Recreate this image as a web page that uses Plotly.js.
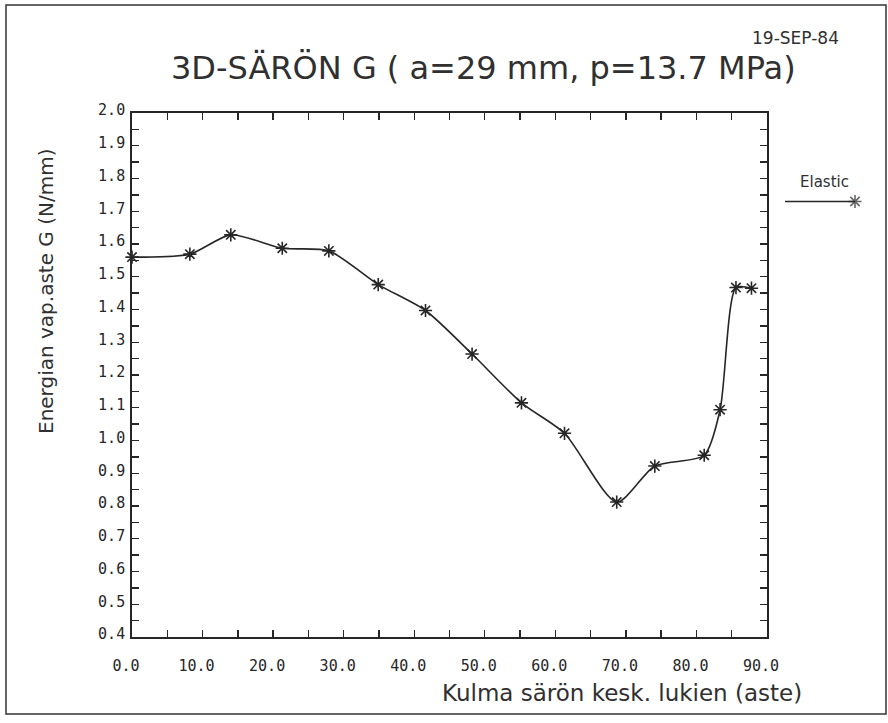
<!DOCTYPE html>
<html>
<head>
<meta charset="utf-8">
<script src="https://cdn.plot.ly/plotly-3.0.1.min.js"></script>
<style>
  html, body { margin: 0; padding: 0; background: #ffffff; }
  #chart { width: 888px; height: 723px; }
</style>
</head>
<body>
<div id="chart"></div>
<script>
// Data
const angle = [0, 8.2, 14.0, 21.3, 27.9, 34.9, 41.6, 48.2, 55.2, 61.3, 68.7, 74.1, 81.1, 83.35, 85.6, 87.8];
const gValue = [1.56, 1.569, 1.628, 1.587, 1.579, 1.476, 1.397, 1.264, 1.115, 1.022, 0.812, 0.922, 0.955, 1.094, 1.467, 1.465];
const seriesName = "Elastic";
const titleText = "3D-SÄRÖN G ( a=29 mm, p=13.7 MPa)";
const dateText = "19-SEP-84";
const xTitle = "Kulma särön kesk. lukien (aste)";
const yTitle = "Energian vap.aste G (N/mm)";

const W = 888, H = 723;
const plotL = 132, plotR = 767, plotT = 113, plotB = 637;
const px = v => v / W;
const py = v => 1 - v / H;

const ink = "#262626";
const textInk = "#303030";
const monoFont = { family: "DejaVu Sans Mono", size: 15, color: ink };

const mainTrace = {
  x: angle, y: gValue, type: "scatter", mode: "lines+markers",
  name: seriesName,
  line: { color: ink, width: 1.6, shape: "spline", smoothing: 0.7 },
  marker: { symbol: "asterisk-open", size: 11, line: { color: "#444", width: 1.6 } },
  showlegend: false,
  cliponaxis: false
};

// legend sample (line with asterisk at its right end)
const legendTrace = {
  x: [0, 1], y: [0, 0], xaxis: "x2", yaxis: "y2", type: "scatter",
  mode: "lines+markers",
  line: { color: ink, width: 1.6 },
  marker: { symbol: "asterisk-open", size: [0, 11], line: { color: "#444", width: 1.6 } },
  showlegend: false, hoverinfo: "skip", cliponaxis: false
};

const layout = {
  width: W, height: H,
  margin: { l: 0, r: 0, t: 0, b: 0, autoexpand: false },
  paper_bgcolor: "#ffffff", plot_bgcolor: "#ffffff",
  showlegend: false,
  xaxis: {
    domain: [px(plotL), px(plotR)],
    range: [0, 90], dtick: 10, tick0: 0,
    tickformat: ".1f",
    ticks: "inside", ticklen: 7, tickwidth: 1.4, tickcolor: ink,
    minor: { dtick: 5, ticks: "inside", ticklen: 7, tickwidth: 1.4, tickcolor: ink },
    showline: true, linecolor: ink, linewidth: 1.8, mirror: "allticks",
    showgrid: false, zeroline: false,
    tickfont: monoFont, ticklabelstandoff: 14, ticklabelshift: -6,
    automargin: false
  },
  yaxis: {
    domain: [py(plotB), py(plotT)],
    range: [0.4, 2.0], dtick: 0.1, tick0: 0.4,
    tickformat: ".1f",
    ticks: "inside", ticklen: 7, tickwidth: 1.4, tickcolor: ink,
    minor: { dtick: 0.05, ticks: "inside", ticklen: 7, tickwidth: 1.4, tickcolor: ink },
    showline: true, linecolor: ink, linewidth: 1.8, mirror: "allticks",
    showgrid: false, zeroline: false,
    tickfont: monoFont, ticklabelstandoff: 2, ticklabelshift: -3,
    automargin: false
  },
  xaxis2: { domain: [px(785), px(855)], range: [0, 1], visible: false, anchor: "y2" },
  yaxis2: { domain: [py(206), py(197)], range: [-1, 1], visible: false, anchor: "x2" },
  shapes: [
    { type: "rect", xref: "paper", yref: "paper", x0: px(6), x1: px(886), y0: py(714), y1: py(5),
      line: { color: "#333", width: 1.5 } }
  ],
  annotations: [
    { text: titleText, xref: "paper", yref: "paper", x: px(483), y: py(68), showarrow: false,
      font: { family: "DejaVu Sans", size: 32, color: textInk }, xanchor: "center", yanchor: "middle" },
    { text: dateText, xref: "paper", yref: "paper", x: px(795), y: py(38), showarrow: false,
      font: { family: "DejaVu Sans", size: 17, color: textInk }, xanchor: "center", yanchor: "middle" },
    { text: xTitle, xref: "paper", yref: "paper", x: px(622), y: py(693), showarrow: false,
      font: { family: "DejaVu Sans", size: 23, color: textInk }, xanchor: "center", yanchor: "middle" },
    { text: yTitle, xref: "paper", yref: "paper", x: px(46), y: py(292), showarrow: false,
      textangle: -90,
      font: { family: "DejaVu Sans", size: 20, color: textInk }, xanchor: "center", yanchor: "middle" },
    { text: seriesName, xref: "paper", yref: "paper", x: px(824), y: py(182), showarrow: false,
      font: { family: "DejaVu Sans", size: 15, color: textInk }, xanchor: "center", yanchor: "middle" }
  ]
};

Plotly.newPlot("chart", [mainTrace, legendTrace], layout, { staticPlot: true, displayModeBar: false });
</script>
</body>
</html>
